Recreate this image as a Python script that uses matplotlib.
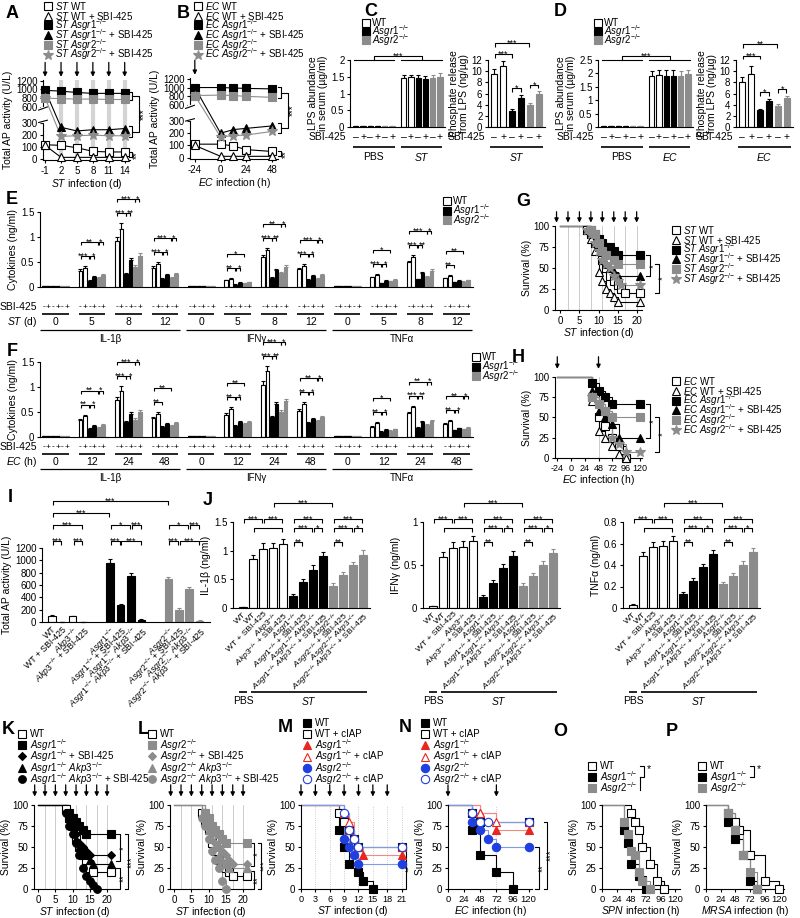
import numpy as np
import matplotlib
matplotlib.use('Agg')
import matplotlib.pyplot as plt
from matplotlib.lines import Line2D
import matplotlib.transforms as mtrans

plt.rcParams.update({
    'font.family': ['Liberation Sans', 'DejaVu Sans'],
    'mathtext.fontset': 'custom',
    'mathtext.rm': 'Liberation Sans',
    'mathtext.it': 'Liberation Sans:italic',
    'mathtext.bf': 'Liberation Sans:bold',
    'mathtext.sf': 'Liberation Sans',
    'font.size': 7,
    'axes.linewidth': 0.8,
    'xtick.major.size': 2.5, 'ytick.major.size': 2.5,
    'xtick.major.width': 0.8, 'ytick.major.width': 0.8,
    'xtick.major.pad': 1.5, 'ytick.major.pad': 1.5,
    'xtick.labelsize': 7, 'ytick.labelsize': 7,
})

# ======================= DATA =======================
ap_ticks = [0, 100, 200, 300, 600, 800, 1000, 1200]
a_days = [-1, 2, 5, 8, 11, 14]
a_wt = [115, 110, 90, 60, 55, 55]
a_wt_sbi = [110, 10, 10, 10, 10, 10]
a_r1 = [980, 960, 930, 910, 910, 910]
a_r1_sbi = [980, 260, 230, 240, 240, 250]
a_r2 = [800, 790, 780, 780, 770, 770]
a_r2_sbi = [800, 185, 190, 195, 190, 190]

b_hours = [-24, 0, 12, 24, 48]
b_wt = [110, 110, 95, 65, 50]
b_wt_sbi = [100, 10, 10, 10, 10]
b_r1 = [1000, 1000, 990, 980, 970]
b_r1_sbi = [1000, 200, 230, 240, 260]
b_r2 = [820, 830, 820, 800, 780]
b_r2_sbi = [820, 170, 180, 185, 215]

sbi_signs = ['\u2013', '+', '\u2013', '+', '\u2013', '+']
c_lps_pbs = [0.03, 0.03, 0.03, 0.03, 0.03, 0.03]
c_lps_st = [1.47, 1.48, 1.45, 1.42, 1.45, 1.48]
c_lps_st_err = [0.08, 0.08, 0.09, 0.09, 0.1, 0.12]
c_phos = [9.5, 10.9, 2.9, 5.2, 3.9, 6.0]
c_phos_err = [0.9, 0.9, 0.3, 0.5, 0.4, 0.5]
d_lps_pbs = [0.03, 0.03, 0.03, 0.03, 0.03, 0.03]
d_lps_ec = [1.9, 1.93, 1.9, 1.9, 1.9, 1.97]
d_lps_ec_err = [0.2, 0.2, 0.22, 0.22, 0.2, 0.15]
d_phos = [8.1, 9.5, 3.0, 4.6, 3.8, 5.2]
d_phos_err = [0.8, 1.4, 0.3, 0.4, 0.3, 0.4]

cyto_names = ['IL-1\u03b2', 'IFN\u03b3', 'TNF\u03b1']
e_times = ['0', '5', '8', '12']
e_il1b = [[0.02, 0.02, 0.02, 0.02, 0.02, 0.02], [0.32, 0.38, 0.12, 0.2, 0.18, 0.24],
          [0.92, 1.15, 0.25, 0.53, 0.4, 0.62], [0.38, 0.46, 0.15, 0.23, 0.18, 0.25]]
e_il1b_err = [[0.005] * 6, [0.03, 0.03, 0.015, 0.02, 0.015, 0.02],
              [0.07, 0.12, 0.03, 0.04, 0.03, 0.05], [0.03, 0.04, 0.02, 0.02, 0.015, 0.02]]
e_ifng = [[0.02, 0.02, 0.02, 0.02, 0.02, 0.02], [0.13, 0.16, 0.04, 0.08, 0.07, 0.09],
          [0.6, 0.74, 0.17, 0.33, 0.27, 0.4], [0.35, 0.42, 0.14, 0.22, 0.16, 0.23]]
e_ifng_err = [[0.005] * 6, [0.015, 0.015, 0.01, 0.01, 0.01, 0.01],
              [0.04, 0.04, 0.02, 0.03, 0.03, 0.03], [0.03, 0.03, 0.015, 0.02, 0.015, 0.02]]
e_tnfa = [[0.02, 0.02, 0.02, 0.02, 0.02, 0.02], [0.19, 0.23, 0.07, 0.12, 0.11, 0.14],
          [0.49, 0.6, 0.15, 0.28, 0.2, 0.32], [0.17, 0.22, 0.09, 0.12, 0.1, 0.13]]
e_tnfa_err = [[0.005] * 6, [0.015, 0.02, 0.01, 0.01, 0.01, 0.01],
              [0.03, 0.04, 0.015, 0.02, 0.02, 0.03], [0.015, 0.015, 0.01, 0.01, 0.01, 0.01]]
e_sig_up = [[None, ('**', '*'), ('***', '*'), ('***', '*')],
            [None, ('*', None), ('**', '*'), ('***', '*')],
            [None, ('*', None), ('***', '*'), ('**', None)]]
e_sig_lo = [[None, ('***', '*'), ('***', '**'), ('***', '*')],
            [None, ('**', '*'), ('***', '**'), ('***', '*')],
            [None, ('***', '*'), ('***', '**'), ('**', None)]]

f_times = ['0', '12', '24', '48']
f_il1b = [[0.02, 0.02, 0.02, 0.02, 0.02, 0.02], [0.35, 0.42, 0.17, 0.23, 0.19, 0.24],
          [0.75, 0.92, 0.3, 0.47, 0.35, 0.5], [0.38, 0.47, 0.2, 0.26, 0.22, 0.29]]
f_il1b_err = [[0.005] * 6, [0.02, 0.03, 0.015, 0.02, 0.015, 0.02],
              [0.06, 0.1, 0.03, 0.04, 0.03, 0.04], [0.03, 0.03, 0.015, 0.02, 0.015, 0.02]]
f_ifng = [[0.02, 0.02, 0.02, 0.02, 0.02, 0.02], [0.45, 0.57, 0.23, 0.31, 0.27, 0.31],
          [1.05, 1.32, 0.4, 0.66, 0.5, 0.72], [0.52, 0.66, 0.28, 0.37, 0.32, 0.4]]
f_ifng_err = [[0.005] * 6, [0.03, 0.03, 0.02, 0.02, 0.02, 0.02],
              [0.08, 0.1, 0.03, 0.05, 0.04, 0.05], [0.04, 0.04, 0.02, 0.02, 0.02, 0.03]]
f_tnfa = [[0.02, 0.02, 0.02, 0.02, 0.02, 0.02], [0.21, 0.28, 0.11, 0.15, 0.13, 0.16],
          [0.48, 0.6, 0.19, 0.3, 0.24, 0.33], [0.26, 0.33, 0.14, 0.18, 0.16, 0.19]]
f_tnfa_err = [[0.005] * 6, [0.015, 0.015, 0.01, 0.01, 0.01, 0.01],
              [0.03, 0.03, 0.015, 0.02, 0.015, 0.02], [0.015, 0.015, 0.01, 0.01, 0.01, 0.01]]
f_sig_up = [[None, ('**', '*'), ('***', '*'), ('**', None)],
            [None, ('**', None), ('***', '*'), ('**', '*')],
            [None, ('*', None), ('**', '*'), ('**', '*')]]
f_sig_lo = [[None, ('**', '*'), ('***', '*'), ('**', None)],
            [None, ('**', '*'), ('***', '**'), ('**', '*')],
            [None, ('**', '*'), ('***', '**'), ('**', '*')]]

# survival G (days)
g_wt_t = [7, 8, 9, 10, 11, 12, 13, 14, 15, 16, 17, 21]
g_wt_s = [95, 90, 80, 70, 60, 50, 40, 35, 30, 25, 20, 20]
g_wtsbi_t = [7, 8, 9, 10, 11, 12, 13, 14, 15, 21]
g_wtsbi_s = [95, 85, 70, 45, 35, 25, 20, 15, 10, 10]
g_r1_t = [8, 9, 10, 11, 13, 14, 15, 21]
g_r1_s = [95, 90, 85, 80, 75, 70, 65, 65]
g_r1sbi_t = [8, 9, 10, 11, 12, 13, 14, 15, 21]
g_r1sbi_s = [90, 80, 75, 60, 55, 50, 45, 40, 40]
g_r2_t = [8, 9, 10, 11, 12, 14, 15, 21]
g_r2_s = [95, 90, 80, 70, 65, 60, 55, 55]
g_r2sbi_t = [7, 8, 9, 10, 11, 12, 13, 14, 15, 16, 21]
g_r2sbi_s = [95, 90, 80, 70, 60, 55, 50, 40, 35, 30, 30]

# survival H (hours)
h_wt_t = [36, 48, 60, 72, 84, 96]
h_wt_s = [75, 50, 40, 25, 15, 0]
h_wtsbi_t = [36, 48, 60, 72, 84, 96]
h_wtsbi_s = [70, 33, 25, 15, 5, 0]
h_r1_t = [36, 48, 60, 72, 120]
h_r1_s = [92, 83, 75, 67, 67]
h_r1sbi_t = [36, 48, 60, 72, 84, 120]
h_r1sbi_s = [83, 58, 50, 42, 25, 25]
h_r2_t = [36, 48, 60, 72, 120]
h_r2_s = [75, 67, 58, 50, 50]
h_r2sbi_t = [36, 48, 60, 72, 84, 96, 120]
h_r2sbi_s = [75, 67, 58, 25, 17, 8, 8]

# I
i_vals = [100, 5, 95, 5, 960, 270, 750, 40, 690, 190, 530, 20]
i_err = [8, 2, 8, 2, 60, 30, 50, 8, 40, 30, 40, 5]

# J
j_il1b = [0.02, 0.85, 1.03, 1.05, 1.12, 0.21, 0.46, 0.67, 0.9, 0.39, 0.57, 0.75, 0.93]
j_il1b_err = [0.005, 0.08, 0.1, 0.09, 0.08, 0.03, 0.05, 0.08, 0.08, 0.04, 0.05, 0.06, 0.08]
j_ifng = [0.02, 0.59, 0.7, 0.71, 0.78, 0.13, 0.29, 0.46, 0.61, 0.26, 0.37, 0.5, 0.64]
j_ifng_err = [0.005, 0.06, 0.07, 0.07, 0.06, 0.02, 0.04, 0.05, 0.05, 0.03, 0.04, 0.05, 0.05]
j_tnfa = [0.03, 0.48, 0.57, 0.58, 0.62, 0.13, 0.25, 0.38, 0.5, 0.22, 0.3, 0.4, 0.52]
j_tnfa_err = [0.005, 0.04, 0.04, 0.04, 0.05, 0.015, 0.03, 0.03, 0.04, 0.02, 0.03, 0.04, 0.04]

# K
k_wt_t = [8, 9, 10, 11, 12, 13, 14, 15, 16, 21]
k_wt_s = [95, 85, 75, 60, 50, 40, 35, 25, 20, 20]
k_r1_t = [9, 10, 11, 12, 13, 14, 21]
k_r1_s = [90, 85, 80, 75, 70, 65, 65]
k_r1sbi_t = [9, 10, 11, 12, 13, 14, 15, 21]
k_r1sbi_s = [85, 75, 65, 55, 50, 45, 40, 40]
k_r1akp_t = [9, 10, 11, 12, 13, 14, 15, 16, 21]
k_r1akp_s = [85, 75, 60, 50, 45, 40, 35, 30, 30]
k_r1akpsbi_t = [8, 9, 10, 11, 12, 13, 14, 15, 16, 17]
k_r1akpsbi_s = [90, 75, 65, 55, 40, 25, 15, 10, 5, 0]
# L
l_wt_t = [8, 9, 10, 11, 12, 13, 14, 15, 16, 17, 21]
l_wt_s = [90, 80, 70, 55, 45, 35, 30, 25, 20, 15, 15]
l_r2_t = [9, 10, 11, 12, 13, 14, 15, 21]
l_r2_s = [90, 85, 75, 70, 65, 60, 55, 55]
l_r2sbi_t = [9, 10, 11, 12, 13, 14, 15, 16, 17, 21]
l_r2sbi_s = [85, 75, 65, 55, 50, 45, 40, 35, 30, 30]
l_r2akp_t = [9, 10, 11, 12, 13, 14, 15, 16, 21]
l_r2akp_s = [80, 70, 60, 50, 40, 35, 30, 25, 25]
l_r2akpsbi_t = [8, 9, 10, 11, 12, 13, 14, 15]
l_r2akpsbi_s = [85, 75, 60, 45, 35, 25, 10, 0]
# M
m_wt_t = [8, 9, 10, 12, 13, 15]
m_wt_s = [70, 50, 30, 20, 10, 0]
m_wtc_t = [8, 9, 10, 11, 12, 21]
m_wtc_s = [90, 80, 70, 60, 50, 50]
m_r1_t = [9, 10, 11, 12, 13, 21]
m_r1_s = [90, 70, 60, 50, 40, 40]
m_r1c_t = [9, 10, 11, 12, 21]
m_r1c_s = [90, 80, 60, 50, 50]
m_r2_t = [9, 10, 11, 12, 21]
m_r2_s = [60, 50, 40, 30, 30]
m_r2c_t = [9, 10, 11, 12, 21]
m_r2c_s = [90, 70, 60, 50, 50]
# N
n_wt_t = [36, 48, 72, 96]
n_wt_s = [70, 40, 20, 0]
n_wtc_t = [36, 48, 120]
n_wtc_s = [90, 80, 80]
n_r1_t = [48, 72, 120]
n_r1_s = [90, 70, 70]
n_r1c_t = [48, 72, 120]
n_r1c_s = [90, 80, 80]
n_r2_t = [36, 48, 60, 72, 120]
n_r2_s = [80, 70, 60, 50, 50]
n_r2c_t = [36, 48, 60, 120]
n_r2c_s = [90, 80, 80, 80]
# O
o_wt_t = [48, 54, 60, 66, 78, 90, 102]
o_wt_s = [90, 80, 70, 50, 30, 10, 0]
o_r1_t = [36, 42, 48, 60, 72]
o_r1_s = [70, 55, 30, 15, 0]
o_r2_t = [36, 42, 48, 54, 60, 66, 78]
o_r2_s = [80, 65, 45, 40, 20, 10, 0]
# P
p_wt_t = [36, 48, 54, 72, 96, 120]
p_wt_s = [90, 80, 70, 40, 10, 0]
p_r1_t = [36, 48, 60, 72, 84]
p_r1_s = [80, 60, 40, 10, 0]
p_r2_t = [36, 48, 60, 72, 84]
p_r2_s = [90, 70, 40, 20, 0]

# ======================= HELPERS =======================
W, H = 800, 918
fig = plt.figure(figsize=(8, 9.18), dpi=100)
fig.patch.set_facecolor('white')
GRAY = '#8c8c8c'
RED = '#e8261e'
RED_L = '#f08a80'
BLUE = '#1f3fe0'
BLUE_L = '#7d9be8'
LEGFS = 7


def axpx(l, t, r, b):
    return fig.add_axes([l / W, 1 - b / H, (r - l) / W, (b - t) / H])


def ft(x, y, s, **kw):
    kw.setdefault('ha', 'left')
    kw.setdefault('va', 'center')
    fig.text(x / W, 1 - y / H, s, **kw)


def style(ax):
    for s in ('top', 'right'):
        ax.spines[s].set_visible(False)


def ko(g):
    return r'$\it{%s}^{{-}/{-}}$' % g


R1, R2, AK = ko('Asgr1'), ko('Asgr2'), ko('Akp3')
ST, EC = r'$\it{ST}$', r'$\it{EC}$'


def letter(x, y, s):
    ft(x, y, s, fontsize=13, fontweight='bold', ha='center')


def legend_px(x, y0, dy, styles, labels, fs=LEGFS, tx=7):
    for i, (st, lab) in enumerate(zip(styles, labels)):
        y = y0 + i * dy
        fig.add_artist(Line2D([x / W], [1 - y / H], marker=st['marker'], mfc=st['mfc'],
                              mec=st['mec'], ms=st['ms'], mew=0.8, ls='none'))
        ft(x + tx, y, lab, fontsize=fs)


def hbr(ax, x1, x2, y, txt, leg, tr=None, fs=6.5, inset=0.0, dx=0.0):
    tr = tr if tr is not None else ax.transData
    x1 += inset
    x2 -= inset
    ax.plot([x1, x1, x2, x2], [y - leg, y, y, y - leg], transform=tr, color='k', lw=0.8,
            clip_on=False, solid_capstyle='butt')
    if txt:
        ax.annotate(txt, xy=((x1 + x2) / 2, y), xycoords=tr, xytext=(dx, -0.3 * fs),
                    textcoords='offset points', ha='center', va='baseline', fontsize=fs,
                    annotation_clip=False)


def ymid(ax, y1, y2):
    t = ax.transData
    d1 = t.transform((0, y1))[1]
    d2 = t.transform((0, y2))[1]
    return t.inverted().transform((0, (d1 + d2) / 2))[1]


def vbr(ax, xpx, y1, y2, wpx, txt=None, tdx=5, fs=7):
    tr = mtrans.blended_transform_factory(fig.transFigure, ax.transData)
    x = xpx / W
    w = wpx / W
    ax.plot([x - w, x, x, x - w], [y1, y1, y2, y2], transform=tr, color='k', lw=0.8, clip_on=False)
    if txt:
        ax.text(x + tdx / W, ymid(ax, y1, y2), txt, transform=tr, rotation=90, ha='center',
                va='center', fontsize=fs, clip_on=False)


def arrows(ax, xs, y0, y1):
    tr = ax.get_xaxis_transform()
    for x in xs:
        ax.annotate('', xy=(x, y0), xycoords=tr, xytext=(x, y1), textcoords=tr,
                    arrowprops=dict(arrowstyle='-|>', color='k', lw=0.9, mutation_scale=6,
                                    shrinkA=0, shrinkB=0), annotation_clip=False)


def bars(ax, xs, vals, errs, faces, edges, width):
    ax.bar(xs, vals, width, color=faces, edgecolor=edges, linewidth=0.8, zorder=2)
    for x, v, e, ec in zip(xs, vals, errs, edges):
        ax.errorbar([x], [v], yerr=[[0], [e]], fmt='none', ecolor=ec, elinewidth=0.8,
                    capsize=1.3, capthick=0.8, zorder=1, clip_on=False)


def figy_tr(ax):
    return mtrans.blended_transform_factory(ax.transData, fig.transFigure)


def row_text(ax, xs, ypx, texts, fs=7, **kw):
    tr = figy_tr(ax)
    for x, s in zip(xs, texts):
        ax.text(x, 1 - ypx / H, s, transform=tr, ha='center', va='center', fontsize=fs,
                clip_on=False, **kw)


def under(ax, x1, x2, ypx, lw=1.2):
    tr = figy_tr(ax)
    ax.plot([x1, x2], [1 - ypx / H] * 2, transform=tr, color='k', lw=lw, clip_on=False,
            solid_capstyle='butt')


S6 = [dict(marker='s', mfc='white', mec='k', lc='k', ms=5.5),
      dict(marker='^', mfc='white', mec='k', lc='k', ms=5.5),
      dict(marker='s', mfc='k', mec='k', lc='k', ms=5.5),
      dict(marker='^', mfc='k', mec='k', lc='k', ms=5.5),
      dict(marker='s', mfc=GRAY, mec=GRAY, lc=GRAY, ms=5.5),
      dict(marker='*', mfc=GRAY, mec=GRAY, lc=GRAY, ms=7.5)]
BAR3 = [dict(marker='s', mfc='white', mec='k', ms=5.5),
        dict(marker='s', mfc='k', mec='k', ms=5.5),
        dict(marker='s', mfc=GRAY, mec=GRAY, ms=5.5)]
FACES6 = ['white', 'white', 'k', 'k', GRAY, GRAY]
EDGES6 = ['k', 'k', 'k', 'k', GRAY, GRAY]


def draw_lines(ax, x, series, styles):
    for ys, st in zip(series, styles):
        ax.plot(x, ys, color=st['lc'], lw=0.8, zorder=2, clip_on=False)
    for ys, st in zip(series, styles):
        ax.plot(x, ys, ls='none', marker=st['marker'], mfc=st['mfc'], mec=st['mec'],
                ms=st['ms'], mew=0.8, zorder=3, clip_on=False)


def surv(ax, t0, t, s, st, lw=0.8):
    ax.step([t0] + list(t), [100] + list(s), where='post', color=st['lc'], lw=lw, zorder=2,
            clip_on=False)
    ax.plot(t, s, ls='none', marker=st['marker'], mfc=st['mfc'], mec=st['mec'], ms=st['ms'],
            mew=0.8, zorder=3, clip_on=False)


def surv_axes(ax, xlim, xticks, xlabel, xfs=7):
    style(ax)
    ax.set_ylim(0, 100)
    ax.set_yticks([0, 25, 50, 75, 100])
    ax.set_xlim(*xlim)
    ax.set_xticks(xticks)
    ax.tick_params(axis='x', labelsize=xfs)
    ax.set_ylabel('Survival (%)', fontsize=7.5, labelpad=1)
    ax.set_xlabel(xlabel, fontsize=7.5, labelpad=0.5)


# broken axis scale for AP activity
_knots = [-1000, 0, 300, 600, 1200, 5000]
_pix = [-123.3, 0, 37, 53, 80, 251]


def brk_fwd(v):
    return np.interp(v, _knots, _pix)


def brk_inv(y):
    return np.interp(y, _pix, _knots)


def ap_panel(box, x, series, xlim, xticks, xlabel, bands, arrow_x):
    ax = axpx(*box)
    style(ax)
    ax.set_yscale('function', functions=(brk_fwd, brk_inv))
    ax.set_ylim(-12, 1215)
    ax.set_yticks(ap_ticks)
    ax.set_yticklabels([str(v) for v in ap_ticks])
    ax.set_xlim(*xlim)
    ax.set_xticks(xticks)
    ax.set_xticklabels([str(v) for v in xticks])
    for xb in bands:
        ax.axvline(xb, color='#d4d4d4', lw=3, zorder=0)
    draw_lines(ax, x, series, S6)
    tr = ax.get_yaxis_transform()
    ax.plot([0, 0], [335, 560], transform=tr, color='white', lw=3, clip_on=False, zorder=5)
    ax.plot([-0.05, 0.05], [300, 345], transform=tr, color='k', lw=0.8, clip_on=False, zorder=6)
    ax.plot([-0.05, 0.05], [540, 600], transform=tr, color='k', lw=0.8, clip_on=False, zorder=6)
    ax.set_ylabel('Total AP activity (U/L)', fontsize=7.5, labelpad=2)
    ax.set_xlabel(xlabel, fontsize=7.5, labelpad=1)
    arrows(ax, arrow_x, 1.04, 1.22)
    return ax


# ======================= PANEL A =======================
letter(12, 14, 'A')
legend_px(48, 6, 9.7, S6, [ST + ' WT', ST + ' WT + SBI-425', ST + ' ' + R1, ST + ' ' + R1 + ' + SBI-425',
                          ST + ' ' + R2, ST + ' ' + R2 + ' + SBI-425'])
axA = ap_panel((43, 80, 130, 160), a_days, [a_wt, a_wt_sbi, a_r1, a_r1_sbi, a_r2, a_r2_sbi],
               (-1.4, 15.0), a_days, ST + ' infection (d)', a_days[1:], a_days)
vbr(axA, 132, a_r1[-1] + 40, a_r2[-1] - 20, 3)
vbr(axA, 132, a_r1_sbi[-1] + 20, a_r2_sbi[-1] - 10, 3)
vbr(axA, 139, ymid(axA, a_r1[-1] + 40, a_r2[-1] - 20), ymid(axA, a_r1_sbi[-1] + 20, a_r2_sbi[-1] - 10), 7,
    '***', tdx=5)
vbr(axA, 132, a_wt[-1], a_wt_sbi[-1], 3, '**', tdx=5)

# ======================= PANEL B =======================
letter(183, 14, 'B')
legend_px(198, 6, 9.7, S6, [EC + ' WT', EC + ' WT + SBI-425', EC + ' ' + R1, EC + ' ' + R1 + ' + SBI-425',
                           EC + ' ' + R2, EC + ' ' + R2 + ' + SBI-425'])
axB = ap_panel((190, 78, 278, 159), b_hours, [b_wt, b_wt_sbi, b_r1, b_r1_sbi, b_r2, b_r2_sbi],
               (-28.5, 53.5), [-24, 0, 24, 48], EC + ' infection (h)', [], [-24])
vbr(axB, 281, b_r1[-1] + 40, b_r2[-1] - 20, 3)
vbr(axB, 281, b_r1_sbi[-1] + 20, b_r2_sbi[-1] - 10, 3)
vbr(axB, 288, ymid(axB, b_r1[-1] + 40, b_r2[-1] - 20), ymid(axB, b_r1_sbi[-1] + 20, b_r2_sbi[-1] - 10), 7,
    '***', tdx=5)
vbr(axB, 281, b_wt[-1], b_wt_sbi[-1], 3, '**', tdx=5)


# ======================= PANELS C, D =======================
def cd_panel(dx, pbs, inf, inf_err, phos, phos_err, inf_lab, lps_top, lps_ticks, sig_right):
    ax = axpx(350 + dx, 60, 445 + dx, 127)
    style(ax)
    xl = list(range(6)) + [6.6 + i for i in range(6)]
    bars(ax, xl, pbs + inf, [0.01] * 6 + inf_err, FACES6 * 2, EDGES6 * 2, 0.72)
    ax.set_xlim(-0.8, 12.3)
    ax.set_ylim(0, lps_top)
    ax.set_yticks(lps_ticks)
    ax.set_yticklabels(['%g' % v for v in lps_ticks])
    ax.set_xticks([])
    ax.set_ylabel('LPS abundance\nin serum (\u00b5g/ml)', fontsize=7.5, labelpad=2, linespacing=1.0)
    ax.plot([xl[0] - 0.3, xl[5] + 0.3], [lps_top] * 2, color='k', lw=0.8, clip_on=False)
    ax.plot([xl[6] - 0.3, xl[11] + 0.3], [lps_top] * 2, color='k', lw=0.8, clip_on=False)
    hbr(ax, (xl[0] + xl[5]) / 2, (xl[6] + xl[11]) / 2, lps_top * 1.06, '***', lps_top * 0.06)
    row_text(ax, xl, 137, sbi_signs * 2, fs=7.5)
    ft(346 + dx, 137, 'SBI-425', fontsize=7.5, ha='right')
    under(ax, xl[0] - 0.35, xl[5] + 0.35, 147)
    under(ax, xl[6] - 0.35, xl[11] + 0.35, 147)
    row_text(ax, [(xl[0] + xl[5]) / 2, (xl[6] + xl[11]) / 2], 157, ['PBS', inf_lab], fs=7.5)
    ax2 = axpx(488 + dx, 60, 545 + dx, 127)
    style(ax2)
    xr = list(range(6))
    bars(ax2, xr, phos, phos_err, FACES6, EDGES6, 0.72)
    ax2.set_xlim(-0.7, 5.7)
    ax2.set_ylim(0, 12)
    ax2.set_yticks([0, 2, 4, 6, 8, 10, 12])
    ax2.set_xticks([])
    ax2.set_ylabel('Phosphate release\nfrom LPS (ng/\u00b5g)', fontsize=7.5, labelpad=2, linespacing=1.0)
    for (i, j, y, t) in sig_right:
        hbr(ax2, i, j, y, t, 0.7, inset=0.05)
    row_text(ax2, xr, 137, sbi_signs, fs=7.5)
    ft(485 + dx, 137, 'SBI-425', fontsize=7.5, ha='right')
    under(ax2, -0.45, 5.45, 147)
    row_text(ax2, [2.5], 157, [inf_lab], fs=7.5)


letter(371, 12, 'C')
legend_px(366, 23, 8.5, BAR3, ['WT', R1, R2], tx=6)
cd_panel(0, c_lps_pbs, c_lps_st, c_lps_st_err, c_phos, c_phos_err, ST, 2.0, [0, 0.5, 1, 1.5, 2],
         [(0, 4, 15.0, '***'), (0, 2, 13.0, '***'), (2, 3, 7.0, '*'), (4, 5, 7.6, '*')])
letter(560, 12, 'D')
legend_px(598, 23, 8.5, BAR3, ['WT', R1, R2], tx=6)
cd_panel(248, d_lps_pbs, d_lps_ec, d_lps_ec_err, d_phos, d_phos_err, EC, 2.5, [0, 0.5, 1, 1.5, 2, 2.5],
         [(0, 4, 14.9, '**'), (0, 2, 12.8, '***'), (2, 3, 6.2, '*'), (4, 5, 6.8, '*')])


# ======================= PANELS E, F =======================
def cyto_panel(top, data, errs, sig_up, sig_lo, times, inf_lab, rows):
    ax = axpx(40, top, 473, top + 75)
    style(ax)
    ax.set_xlim(-0.42, 11.45)
    ax.set_ylim(0, 1.5)
    ax.set_yticks([0, 0.5, 1, 1.5])
    ax.set_yticklabels(['0', '0.5', '1', '1.5'])
    ax.set_xticks([])
    ax.set_ylabel('Cytokines (ng/ml)', fontsize=7.5, labelpad=2)
    offs = (np.arange(6) - 2.5) * 0.125
    y_sbi, y_ul, y_t, y_big, y_c = rows
    for c in range(3):
        for ti in range(4):
            g = 4 * c + ti
            v = data[c][ti]
            e = errs[c][ti]
            xs = g + offs
            bars(ax, xs, v, e, FACES6, EDGES6, 0.1)
            ylo = max(np.array(v[:4]) + np.array(e[:4])) + 0.2
            yup = ylo + 0.28
            lo = sig_lo[c][ti]
            up = sig_up[c][ti]
            if lo:
                hbr(ax, xs[0], xs[2], ylo, lo[0], 0.06, inset=0.01, fs=6.4, dx=-1.2)
                if lo[1]:
                    hbr(ax, xs[2], xs[3], ylo, lo[1], 0.06, inset=0.01, fs=6.4, dx=1.3)
            if up:
                hbr(ax, xs[0], xs[4], yup, up[0], 0.06, inset=0.01, fs=6.4)
                if up[1]:
                    hbr(ax, xs[4], xs[5], yup, up[1], 0.06, inset=0.01, fs=6.4)
            row_text(ax, xs, y_sbi, ['-', '+'] * 3, fs=6)
            under(ax, xs[0] - 0.05, xs[5] + 0.05, y_ul)
            row_text(ax, [g], y_t, [times[ti]], fs=7.5)
        under(ax, 4 * c - 0.42, 4 * c + 3.42, y_big, lw=0.9)
        row_text(ax, [4 * c + 1.5], y_c, [cyto_names[c]], fs=7)
    ft(37, y_sbi, 'SBI-425', fontsize=7.5, ha='right')
    ft(37, y_t, inf_lab, fontsize=7.5, ha='right')
    return ax


letter(12, 200, 'E')
legend_px(447, 201, 9.5, BAR3, ['WT', R1, R2], tx=6)
cyto_panel(212, [e_il1b, e_ifng, e_tnfa], [e_il1b_err, e_ifng_err, e_tnfa_err], e_sig_up, e_sig_lo,
           e_times, ST + ' (d)', (307, 314, 322, 330, 339))
letter(12, 351, 'F')
legend_px(476, 357, 9.5, BAR3, ['WT', R1, R2], tx=6)
cyto_panel(362, [f_il1b, f_ifng, f_tnfa], [f_il1b_err, f_ifng_err, f_tnfa_err], f_sig_up, f_sig_lo,
           f_times, EC + ' (h)', (447, 454, 462, 469, 478))

# ======================= PANEL G =======================
letter(523, 201, 'G')
axG = axpx(555, 226, 642, 310)
surv_axes(axG, (-1.4, 21.4), [0, 5, 10, 15, 20], ST + ' infection (d)')
for xv in a_days[1:] + [17, 20]:
    axG.axvline(xv, color='#c4c4c4', lw=0.6, zorder=0)
for (t, s), st in zip([(g_wt_t, g_wt_s), (g_wtsbi_t, g_wtsbi_s), (g_r1_t, g_r1_s), (g_r1sbi_t, g_r1sbi_s),
                       (g_r2_t, g_r2_s), (g_r2sbi_t, g_r2sbi_s)], S6):
    surv(axG, 0, t, s, st)
arrows(axG, a_days + [17, 20], 1.04, 1.17)
legend_px(676, 230, 9.8, S6, [ST + ' WT', ST + ' WT + SBI-425', ST + ' ' + R1, ST + ' ' + R1 + ' + SBI-425',
                             ST + ' ' + R2, ST + ' ' + R2 + ' + SBI-425'])
vbr(axG, 650, g_r1_s[-1], g_r1sbi_s[-1], 4, '*', tdx=4)
vbr(axG, 659, g_r2_s[-1], g_wt_s[-1], 4, '*', tdx=4)

# ======================= PANEL H =======================
letter(518, 358, 'H')
axH = axpx(555, 377, 642, 458)
surv_axes(axH, (-28, 124), [-24, 0, 24, 48, 72, 96, 120], EC + ' infection (h)', xfs=6.5)
axH.set_xticklabels(['-24', '0', '24', '48', '72', '96', '120'])
axH.axvline(48, color='#c4c4c4', lw=0.6, zorder=0)
for (t, s), st in zip([(h_wt_t, h_wt_s), (h_wtsbi_t, h_wtsbi_s), (h_r1_t, h_r1_s), (h_r1sbi_t, h_r1sbi_s),
                       (h_r2_t, h_r2_s), (h_r2sbi_t, h_r2sbi_s)], S6):
    surv(axH, -24, t, s, st)
arrows(axH, [-24, 48], 1.1, 1.25)
legend_px(676, 381, 9.8, S6, [EC + ' WT', EC + ' WT + SBI-425', EC + ' ' + R1, EC + ' ' + R1 + ' + SBI-425',
                             EC + ' ' + R2, EC + ' ' + R2 + ' + SBI-425'])
vbr(axH, 650, h_r1_s[-1], h_r1sbi_s[-1], 4, '*', tdx=4)
vbr(axH, 659, h_r2_s[-1], h_r2sbi_s[-1], 4, '*', tdx=4)

# ======================= PANEL I =======================
letter(10, 498, 'I')
I_LABELS = ['WT', 'WT + SBI-425', AK, AK + ' + SBI-425', R1, R1 + ' + SBI-425', R1 + ' ' + AK,
            R1 + ' ' + AK + ' + SBI-425', R2, R2 + ' + SBI-425', R2 + ' ' + AK, R2 + ' ' + AK + ' + SBI-425']
I_FACES = ['white'] * 4 + ['k'] * 4 + [GRAY] * 4
I_EDGES = ['k'] * 4 + ['k'] * 4 + [GRAY] * 4
i_x = [0, 1, 2, 3, 5.6, 6.6, 7.6, 8.6, 11.2, 12.2, 13.2, 14.2]
axI = axpx(42, 548, 210, 622)
style(axI)
bars(axI, i_x, i_vals, i_err, I_FACES, I_EDGES, 0.72)
axI.set_xlim(-0.95, 15.2)
axI.set_ylim(0, 1200)
axI.set_yticks([0, 200, 400, 600, 800, 1000, 1200])
axI.set_xticks(i_x)
axI.set_xticklabels(I_LABELS, rotation=45, ha='right', rotation_mode='anchor', fontsize=6.3)
axI.tick_params(axis='x', length=0, pad=2)
axI.set_ylabel('Total AP activity (U/L)', fontsize=7.5, labelpad=2)
trI = axI.get_xaxis_transform()
for (i, j, y, t) in [(0, 1, 1.09, '***'), (2, 3, 1.09, '***'), (4, 5, 1.09, '***'), (5, 7, 1.09, '***'),
                     (8, 9, 1.09, '***'), (9, 11, 1.09, '***'),
                     (0, 3, 1.31, '***'), (4, 6, 1.31, '*'), (6, 7, 1.31, '***'),
                     (8, 10, 1.31, '*'), (10, 11, 1.31, '***'),
                     (0, 4, 1.47, '***'), (0, 8, 1.63, '***')]:
    hbr(axI, i_x[i], i_x[j], y, t, 0.05, tr=trI, inset=0.08)

# ======================= PANEL J =======================
letter(208, 501, 'J')
J_LABELS = ['WT', 'WT', 'WT + SBI-425', AK, AK + ' + SBI-425', R1, R1 + ' + SBI-425', R1 + ' ' + AK,
            R1 + ' ' + AK + ' + SBI-425', R2, R2 + ' + SBI-425', R2 + ' ' + AK, R2 + ' ' + AK + ' + SBI-425']
J_FACES = ['white'] * 5 + ['k'] * 4 + [GRAY] * 4
J_EDGES = ['k'] * 5 + ['k'] * 4 + [GRAY] * 4
J_SIG = [(0, 2, 1.03, '***'), (2, 4, 1.03, '***'), (5, 8, 1.03, '***'), (9, 12, 1.03, '***'),
         (1, 4, 0.93, ''), (5, 7, 0.93, '***'), (7, 8, 0.93, '*'), (9, 11, 0.93, '***'), (11, 12, 0.93, '*'),
         (5, 6, 0.77, '**'), (9, 10, 0.77, '**'), (3, 9, 1.22, '***')]


def j_panel(l, vals, errs, top, ticks, ticklabels, ylabel):
    ax = axpx(l, 522, l + 137, 608)
    style(ax)
    x = np.arange(len(vals))
    bars(ax, x, vals, errs, J_FACES, J_EDGES, 0.72)
    ax.set_xlim(-1, 12.7)
    ax.set_ylim(0, top)
    ax.set_yticks(ticks)
    ax.set_yticklabels(ticklabels)
    ax.set_xticks(x)
    ax.set_xticklabels(J_LABELS, rotation=45, ha='right', rotation_mode='anchor', fontsize=6.1)
    ax.tick_params(axis='x', length=0, pad=2)
    ax.set_ylabel(ylabel, fontsize=7.5, labelpad=2)
    tr = ax.get_xaxis_transform()
    for (i, j, y, t) in J_SIG:
        hbr(ax, i, j, y, t, 0.045, tr=tr, inset=0.08)
    under(ax, -0.4, 0.4, 692)
    under(ax, 0.8, 12.4, 692)
    row_text(ax, [0, 6.6], 701, ['PBS', ST], fs=7.5)


j_panel(233, j_il1b, j_il1b_err, 1.5, [0, 0.5, 1, 1.5], ['0', '0.5', '1', '1.5'], 'IL-1\u03b2 (ng/ml)')
j_panel(423, j_ifng, j_ifng_err, 1.0, [0, 0.5, 1], ['0', '0.5', '1'], 'IFN\u03b3 (ng/ml)')
j_panel(623, j_tnfa, j_tnfa_err, 0.8, [0, 0.2, 0.4, 0.6, 0.8], ['0', '0.2', '0.4', '0.6', '0.8'],
        'TNF\u03b1 (ng/ml)')

# ======================= PANELS K, L =======================
SK = [dict(marker='s', mfc='white', mec='k', lc='k', ms=6),
      dict(marker='s', mfc='k', mec='k', lc='k', ms=6),
      dict(marker='D', mfc='k', mec='k', lc='k', ms=4.5),
      dict(marker='^', mfc='k', mec='k', lc='k', ms=5.5),
      dict(marker='o', mfc='k', mec='k', lc='k', ms=5.5)]
SL = [dict(marker='s', mfc='white', mec='k', lc='k', ms=6),
      dict(marker='s', mfc=GRAY, mec=GRAY, lc=GRAY, ms=6),
      dict(marker='D', mfc=GRAY, mec=GRAY, lc=GRAY, ms=4.5),
      dict(marker='^', mfc=GRAY, mec=GRAY, lc=GRAY, ms=5.5),
      dict(marker='o', mfc=GRAY, mec=GRAY, lc=GRAY, ms=5.5)]
k_arrows = a_days + [17, 20]
BOT = (805, 889)

letter(8, 729, 'K')
legend_px(22, 734, 11.2, SK, ['WT', R1, R1 + ' + SBI-425', R1 + ' ' + AK, R1 + ' ' + AK + ' + SBI-425'], tx=8)
axK = axpx(34, BOT[0], 115, BOT[1])
surv_axes(axK, (-1.2, 22.3), [0, 5, 10, 15, 20], ST + ' infection (d)')
for xv in k_arrows[1:]:
    axK.axvline(xv, color='#c4c4c4', lw=0.6, zorder=0)
for (t, s), st in zip([(k_wt_t, k_wt_s), (k_r1_t, k_r1_s), (k_r1sbi_t, k_r1sbi_s), (k_r1akp_t, k_r1akp_s),
                       (k_r1akpsbi_t, k_r1akpsbi_s)], SK):
    surv(axK, 0, t, s, st)
arrows(axK, k_arrows, 1.1, 1.24)
vbr(axK, 120, k_r1_s[-1], k_r1akp_s[-1] + 3, 4, '*', tdx=4)
vbr(axK, 120, k_wt_s[-1] + 5, k_r1akpsbi_s[-1], 4, '**', tdx=4)
vbr(axK, 128, k_r1_s[-1], k_r1akpsbi_s[-1], 3, '***', tdx=4)

letter(143, 729, 'L')
legend_px(152, 734, 11.2, SL, ['WT', R2, R2 + ' + SBI-425', R2 + ' ' + AK, R2 + ' ' + AK + ' + SBI-425'], tx=8)
axL = axpx(170, BOT[0], 251, BOT[1])
surv_axes(axL, (-1.2, 22.3), [0, 5, 10, 15, 20], ST + ' infection (d)')
for xv in k_arrows[1:]:
    axL.axvline(xv, color='#c4c4c4', lw=0.6, zorder=0)
for (t, s), st in zip([(l_wt_t, l_wt_s), (l_r2_t, l_r2_s), (l_r2sbi_t, l_r2sbi_s), (l_r2akp_t, l_r2akp_s),
                       (l_r2akpsbi_t, l_r2akpsbi_s)], SL):
    surv(axL, 0, t, s, st)
arrows(axL, k_arrows, 1.1, 1.24)
vbr(axL, 254, l_r2_s[-1], l_r2sbi_s[-1] - 3, 3, '*', tdx=3.5)
vbr(axL, 254, l_r2akp_s[-1] - 3, l_r2akpsbi_s[-1], 3, '**', tdx=3.5)
vbr(axL, 261, l_r2_s[-1], l_r2akpsbi_s[-1], 3, '***', tdx=3.3, fs=6.5)

# ======================= PANELS M, N =======================
SM = [dict(marker='s', mfc='k', mec='k', lc='k', ms=6),
      dict(marker='s', mfc='white', mec='k', lc='#555555', ms=6),
      dict(marker='^', mfc=RED, mec=RED, lc=RED_L, ms=6),
      dict(marker='^', mfc='white', mec=RED, lc=RED_L, ms=6),
      dict(marker='o', mfc=BLUE, mec=BLUE, lc=BLUE_L, ms=6),
      dict(marker='o', mfc='white', mec=BLUE, lc=BLUE_L, ms=6)]
M_LABELS = ['WT', 'WT + cIAP', R1, R1 + ' + cIAP', R2, R2 + ' + cIAP']

letter(285, 728, 'M')
legend_px(307, 723, 11.2, SM, M_LABELS, tx=8)
axM = axpx(301, BOT[0], 404, BOT[1])
surv_axes(axM, (0, 21.5), [0, 3, 6, 9, 12, 15, 18, 21], ST + ' infection (d)', xfs=6.6)
for xv in [3, 6, 9, 12, 15, 18, 21]:
    axM.axvline(xv, color='#bdbdbd', lw=0.6, ls=':', zorder=0)
for (t, s), st in zip([(m_wt_t, m_wt_s), (m_wtc_t, m_wtc_s), (m_r1_t, m_r1_s), (m_r1c_t, m_r1c_s),
                       (m_r2_t, m_r2_s), (m_r2c_t, m_r2c_s)], SM):
    surv(axM, 0, t, s, st)
arrows(axM, [0, 3, 6, 9, 12, 15, 18], 1.1, 1.24)
vbr(axM, 406, m_wtc_s[-1], m_wt_s[-1], 3, '**', tdx=3.3, fs=6.5)

letter(405, 728, 'N')
legend_px(425, 723, 11.2, SM, M_LABELS, tx=8)
axN = axpx(448, BOT[0], 532, BOT[1])
surv_axes(axN, (0, 125), [0, 24, 48, 72, 96, 120], EC + ' infection (h)', xfs=6.8)
axN.axvline(72, color='#bdbdbd', lw=0.6, ls=':', zorder=0)
for (t, s), st in zip([(n_wt_t, n_wt_s), (n_wtc_t, n_wtc_s), (n_r1_t, n_r1_s), (n_r1c_t, n_r1c_s),
                       (n_r2_t, n_r2_s), (n_r2c_t, n_r2c_s)], SM):
    surv(axN, 0, t, s, st)
arrows(axN, [0, 72], 1.1, 1.24)
vbr(axN, 539, n_r2_s[-1], n_wt_s[-1], 4, '**', tdx=4)
vbr(axN, 547, n_wtc_s[-1], n_wt_s[-1], 3, '***', tdx=4)

# ======================= PANELS O, P =======================
SO = [dict(marker='s', mfc='white', mec='k', lc='k', ms=6),
      dict(marker='s', mfc='k', mec='k', lc='k', ms=6),
      dict(marker='s', mfc=GRAY, mec=GRAY, lc=GRAY, ms=6)]
O_LABELS = ['WT', R1, R2]

letter(560, 731, 'O')
legend_px(592, 766, 11.2, SO, O_LABELS, tx=8)
fig.add_artist(Line2D([640 / W, 644 / W, 644 / W, 640 / W], [1 - 766 / H, 1 - 766 / H, 1 - 777 / H, 1 - 777 / H],
                      color='k', lw=0.8))
fig.add_artist(Line2D([640 / W, 640 / W], [1 - 777 / H, 1 - 790 / H], color='k', lw=0.8))
ft(647, 769, '*', fontsize=7.5)
axO = axpx(602, BOT[0], 680, BOT[1])
surv_axes(axO, (0, 128), [0, 24, 48, 72, 96, 120], r'$\it{SPN}$ infection (h)', xfs=6.8)
for (t, s), st in zip([(o_wt_t, o_wt_s), (o_r1_t, o_r1_s), (o_r2_t, o_r2_s)], SO):
    surv(axO, 0, t, s, st)

letter(672, 731, 'P')
legend_px(702, 766, 11.2, SO, O_LABELS, tx=8)
fig.add_artist(Line2D([750 / W, 754 / W, 754 / W, 750 / W], [1 - 766 / H, 1 - 766 / H, 1 - 777 / H, 1 - 777 / H],
                      color='k', lw=0.8))
ft(757, 769, '*', fontsize=7.5)
axP = axpx(706, BOT[0], 784, BOT[1])
surv_axes(axP, (0, 128), [0, 24, 48, 72, 96, 120], r'$\it{MRSA}$ infection (h)', xfs=6.8)
for (t, s), st in zip([(p_wt_t, p_wt_s), (p_r1_t, p_r1_s), (p_r2_t, p_r2_s)], SO):
    surv(axP, 0, t, s, st)

fig.savefig('out.png', dpi=100, facecolor='white')
